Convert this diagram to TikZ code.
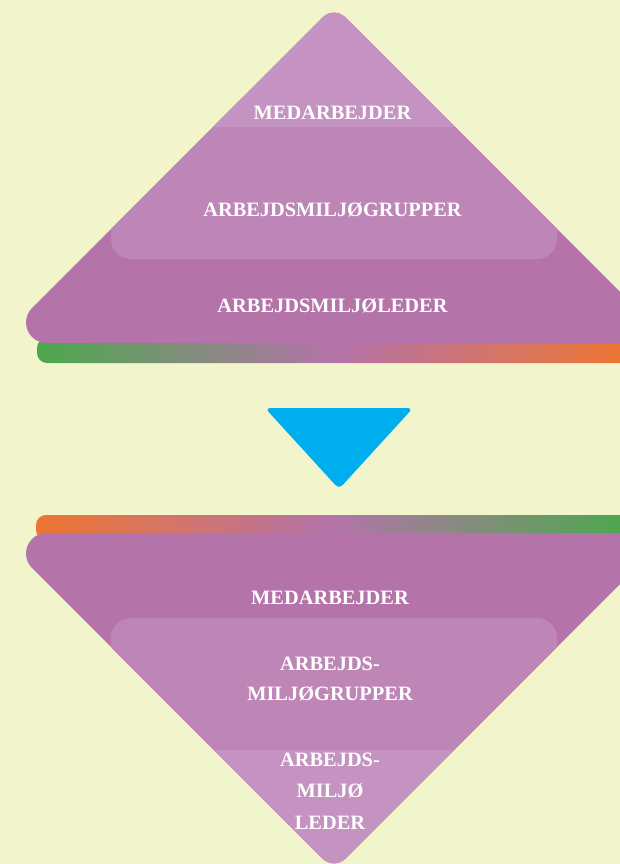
\documentclass[tikz,border=0pt]{standalone}
\usepackage{fontspec}
\newfontfamily\lblfont{Liberation Serif}
\definecolor{bgc}{HTML}{F2F4CC}
\definecolor{pbase}{HTML}{B474AA}
\definecolor{pmid}{HTML}{BD86B7}
\definecolor{plight}{HTML}{C493C1}
\definecolor{gbar}{HTML}{4CA84B}
\definecolor{obar}{HTML}{EE7530}
\definecolor{bluetri}{HTML}{00AEEF}
\def\TopPyr{(671,343) -- (46.5,343) arc[start angle=90, end angle=225, radius=20.5] -- (322.7,17.3) arc[start angle=225, end angle=315, radius=16] -- cycle}
\def\BotPyr{(671,533) -- (46.5,533) arc[start angle=270, end angle=135, radius=20.5] -- (322.7,858.7) arc[start angle=135, end angle=45, radius=16] -- cycle}
\tikzset{
  lbl/.style={font=\lblfont\bfseries\fontsize{20.4}{24}\selectfont, text=white, inner sep=0pt, anchor=base}
}
\begin{document}
\begin{tikzpicture}[x=1pt,y=-1pt]
\useasboundingbox (0,0) rectangle (620,864);
\fill[bgc] (0,0) rectangle (620,864);
\clip (0,0) rectangle (620,864);
% gradient bars
\shade[left color=gbar, right color=obar, middle color=pbase, rounded corners=10pt] (37,338) rectangle (630,363);
\shade[left color=obar, right color=gbar, middle color=pbase, rounded corners=10pt] (36,515) rectangle (630,540);
% top pyramid
\fill[pbase] \TopPyr;
\begin{scope}
  \clip \TopPyr;
  \fill[pmid, rounded corners=20pt] (111,100) rectangle (557,259);
  \fill[plight] (0,0) rectangle (620,127);
\end{scope}
% bottom pyramid
\fill[pbase] \BotPyr;
\begin{scope}
  \clip \BotPyr;
  \fill[pmid, rounded corners=20pt] (111,618) rectangle (557,780);
  \fill[plight] (0,750) rectangle (620,880);
\end{scope}
% blue arrow
\fill[bluetri, rounded corners=5pt] (265,408) -- (413,408) -- (339,489) -- cycle;
% texts
\node[lbl] (t1) at (332.5,119.6) {MEDARBEJDER};
\node[lbl] (t2) at (332.5,216.6) {ARBEJDSMILJØGRUPPER};
\node[lbl] (t3) at (332.5,312.6) {ARBEJDSMILJØLEDER};
\node[lbl] (b1) at (330,604.6) {MEDARBEJDER};
\node[lbl] (b2a) at (330,670) {ARBEJDS-};
\node[lbl] (b2b) at (330,700.5) {MILJØGRUPPER};
\node[lbl] (b3a) at (330,766) {ARBEJDS-};
\node[lbl] (b3b) at (330,797) {MILJØ};
\node[lbl] (b3c) at (330,829) {LEDER};
\end{tikzpicture}
\end{document}
